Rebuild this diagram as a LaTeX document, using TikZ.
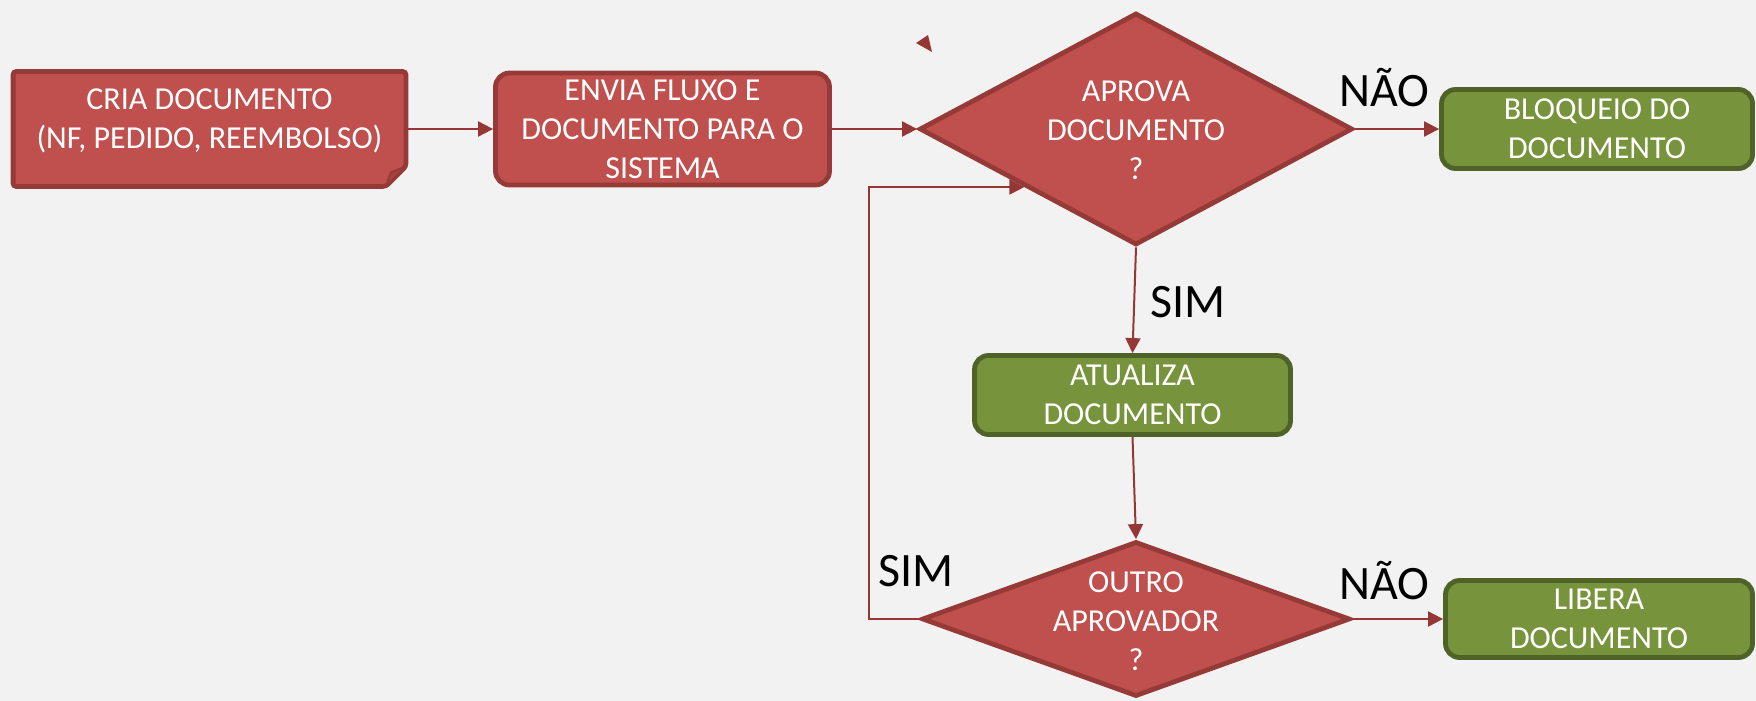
\documentclass[tikz,border=0pt]{standalone}
\usepackage{fontspec}
\setmainfont{Carlito}
\usetikzlibrary{shapes.geometric,arrows.meta,calc}
\definecolor{bg}{HTML}{F2F2F2}
\definecolor{redfill}{HTML}{C0504D}
\definecolor{redline}{HTML}{963A37}
\definecolor{greenfill}{HTML}{77933C}
\definecolor{greenline}{HTML}{4F6228}
\definecolor{conncol}{HTML}{953735}
\definecolor{foldcol}{HTML}{A8423F}
\begin{document}
\begin{tikzpicture}[x=0.5pt,y=-0.5pt,
  boxtext/.style={text=white,font=\fontsize{16}{19.5}\selectfont,align=center,inner sep=0pt},
  redbox/.style={boxtext,draw=redline,fill=redfill,line width=2.4pt,rounded corners=7pt},
  greenbox/.style={boxtext,draw=greenline,fill=greenfill,line width=2.4pt,rounded corners=7pt},
  decision/.style={diamond,draw=redline,fill=redfill,line width=2.4pt,inner sep=0pt},
  conn/.style={draw=conncol,line width=1pt,-{Triangle[length=7.5pt,width=7.5pt]}},
  lbl/.style={font=\fontsize{24}{28}\selectfont,text=black,inner sep=0pt,anchor=base}]
\useasboundingbox (0,0) rectangle (1756,701);
\fill[bg] (0,0) rectangle (1756,701);

% stray arrowhead
\fill[conncol] (916,43) -- (928,35) -- (932,52) -- cycle;

% node 1 (folded corner document)
\node[minimum width=196pt,minimum height=57pt,inner sep=0pt] (n1) at (209.5,129) {};
\draw[draw=redline,fill=redfill,line width=2.4pt,rounded corners=1.5pt]
  (n1.north west) -- (n1.north east) -- ($(n1.south east)+(0,-20)$)
  -- ($(n1.south east)+(-20,0)$) -- (n1.south west) -- cycle;
\draw[draw=redline,fill=foldcol,line width=1pt,line join=round]
  ($(n1.south east)+(-20,0)$) -- ($(n1.south east)+(-15,-14)$) -- ($(n1.south east)+(0,-20)$) -- cycle;
\node[boxtext] (n1t) at (209.5,121) {CRIA DOCUMENTO\\(NF, PEDIDO, REEMBOLSO)};

\node[redbox,minimum width=167pt,minimum height=56pt] (n2) at (662.5,129)
  {ENVIA FLUXO E\\DOCUMENTO PARA O\\SISTEMA};

\node[decision,minimum width=216.5pt,minimum height=116pt] (d1) at (1136,129) {};
\node[boxtext] (d1t) at (1136,130) {APROVA\\DOCUMENTO\\?};

\node[greenbox,minimum width=155.5pt,minimum height=39.5pt] (bl) at (1597,129)
  {BLOQUEIO DO\\DOCUMENTO};

\node[greenbox,minimum width=158pt,minimum height=39.5pt] (at) at (1132.5,395)
  {ATUALIZA\\DOCUMENTO};

\node[decision,minimum width=214pt,minimum height=77.5pt] (d2) at (1136,619) {};
\node[boxtext] (d2t) at (1136,621) {OUTRO\\APROVADOR\\?};

\node[greenbox,minimum width=153.5pt,minimum height=38.5pt] (lb) at (1599,619)
  {LIBERA\\DOCUMENTO};

% labels
\node[lbl] (nao1) at (1384,107) {NÃO};
\node[lbl] (sim1) at (1188,317) {SIM};
\node[lbl] (sim2) at (916,586) {SIM};
\node[lbl] (nao2) at (1384,599) {NÃO};

% connectors
\draw[conn] (n1.east) -- (n2.west);
\draw[conn] (n2.east) -- (d1.west);
\draw[conn] (d1.east) -- (bl.west);
\draw[conn] (d1.south) -- (at.north);
\draw[conn] (at.south) -- (d2.north);
\draw[conn] (d2.east) -- (lb.west);
\coordinate (d1in) at ($(d1.west)!0.49!(d1.south)$);
\coordinate (loopx) at (869,0);
\draw[conn] (d2.west) -| (loopx |- d1in) -- (d1in);
\end{tikzpicture}
\end{document}
